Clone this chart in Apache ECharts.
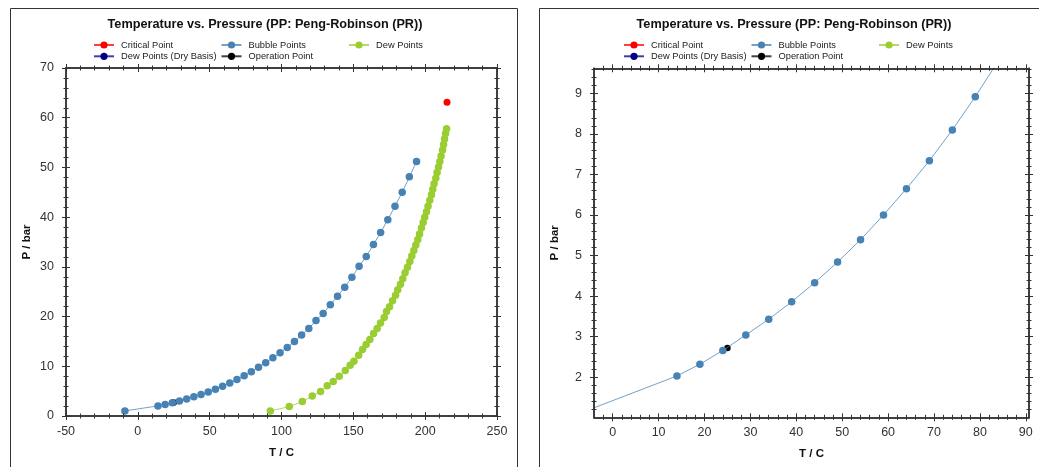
<!DOCTYPE html>
<html>
<head>
<meta charset="utf-8">
<script src="https://cdn.jsdelivr.net/npm/echarts@6/dist/echarts.min.js"></script>
<style>
html,body{margin:0;padding:0;background:#fff;}
#c{width:1039px;height:467px;}
</style>
</head>
<body>
<div id="c"></div>
<script>
// ---- data ----
const bubbleT = [-9, 14, 19, 24, 29, 34, 39, 44, 49, 54, 59, 64, 69, 74, 79, 84, 89, 94, 99, 104, 109, 114, 119, 124, 129, 134, 139, 144, 149, 154, 159, 164, 169, 174, 179, 184, 189, 194];
const bubbleP = [1.03, 2.03, 2.32, 2.66, 3.04, 3.43, 3.86, 4.33, 4.84, 5.39, 6.00, 6.65, 7.34, 8.10, 8.92, 9.8, 10.7, 11.7, 12.7, 13.8, 15.0, 16.3, 17.6, 19.2, 20.6, 22.4, 24.1, 25.9, 27.9, 30.1, 32.1, 34.5, 36.9, 39.5, 42.2, 45.0, 48.1, 51.2];
const dewT = [92.2, 105.4, 114.5, 121.4, 127.2, 131.8, 136.0, 140.2, 144.4, 147.8, 150.4, 153.7, 156.4, 158.9, 161.5, 164.1, 166.6, 168.9, 171.5, 173.1, 175.2, 177.3, 179.4, 180.9, 182.8, 184.4, 186.0, 187.7, 189.3, 190.7, 192.1, 193.5, 194.9, 196.1, 197.4, 198.6, 199.7, 200.9, 202.0, 203.2, 204.4, 205.3, 206.2, 207.4, 208.3, 209.3, 210.2, 211.1, 212.1, 212.8, 213.5, 214.2, 214.9];
const dewP = [1.0, 1.9, 2.9, 4.0, 4.95, 6.1, 6.95, 8.0, 9.15, 10.2, 11.0, 12.2, 13.4, 14.4, 15.4, 16.6, 17.6, 18.7, 19.8, 21.0, 22.0, 23.2, 24.3, 25.4, 26.5, 27.6, 28.8, 29.9, 31.1, 32.2, 33.3, 34.4, 35.5, 36.6, 37.8, 38.9, 40.0, 41.1, 42.2, 43.4, 44.5, 45.6, 46.7, 47.8, 49.0, 50.1, 51.2, 52.3, 53.5, 54.6, 55.7, 56.8, 57.8];
const dewDryT = [];
const dewDryP = [];
const criticalT = [215.2];
const criticalP = [63.1];
const operationT = [25];
const operationP = [2.72];

const seriesNames = ['Critical Point', 'Bubble Points', 'Dew Points', 'Dew Points (Dry Basis)', 'Operation Point'];
const titleText = 'Temperature vs. Pressure (PP: Peng-Robinson (PR))';
const xName = 'T / C';
const yName = 'P / bar';

// tick values
const leftX = {min: -50, max: 250, interval: 50};
const leftY = {min: 0, max: 70, interval: 10};
const rightXMajor = [0, 10, 20, 30, 40, 50, 60, 70, 80, 90];
const rightYMajor = [2, 3, 4, 5, 6, 7, 8, 9];

// ---- build ----
const FONT = '"Liberation Sans", Arial, sans-serif';
const AX = '#333';
function pairs(xs, ys) { return xs.map((x, i) => [x, ys[i]]); }
function range(a, b, step) { const r = []; for (let v = a; v <= b + 1e-9; v += step) r.push(+v.toFixed(4)); return r; }

const xAxes = [], yAxes = [];
function addAxes(list, gi, isX, spec) {
  const pos = isX ? ['bottom', 'top', 'bottom', 'top'] : ['left', 'right', 'left', 'right'];
  const inside = [false, false, true, true];
  const first = list.length;
  const mk = (i, minor) => {
    const a = {
      type: 'value', gridIndex: gi, position: pos[i], min: spec.min, max: spec.max,
      axisLine: {show: !minor, onZero: false, lineStyle: {color: AX, width: 1.5}},
      splitLine: {show: false},
      axisTick: {show: true, inside: inside[i], length: minor ? 2.5 : 4, lineStyle: {color: AX, width: 1}},
      axisLabel: {show: false},
      z: 5
    };
    if (i === 0 && !minor) {
      a.axisLabel = {show: true, color: '#333', fontFamily: FONT, fontSize: 12.5, margin: isX ? 9 : 12};
      a.name = isX ? xName : yName;
      a.nameLocation = 'middle';
      a.nameGap = isX ? 31 : 33;
      a.nameTextStyle = {fontFamily: FONT, fontSize: 11.5, fontWeight: 'bold', color: '#111'};
    }
    if (spec.interval) {
      a.interval = spec.interval;
      if (!minor) a.minorTick = {show: true, splitNumber: 5, length: 2.5, lineStyle: {color: AX, width: 1}};
    } else {
      const vals = minor ? spec.minorVals : spec.major;
      a.axisTick.customValues = vals;
      a.axisLabel.customValues = spec.major;
    }
    return a;
  };
  for (let i = 0; i < 4; i++) list.push(mk(i, false));
  if (!spec.interval) for (let i = 0; i < 4; i++) list.push(mk(i, true));
  return first;
}

const grids = [
  {left: 66, top: 68, width: 431, height: 348, outerBoundsMode: 'none'},
  {left: 594, top: 68.3, width: 435, height: 349, outerBoundsMode: 'none'}
];

const lx = addAxes(xAxes, 0, true, leftX);
const ly = addAxes(yAxes, 0, false, leftY);
const rx = addAxes(xAxes, 1, true, {min: -4.07, max: 90.7, major: rightXMajor, minorVals: range(-2, 90, 2)});
const ry = addAxes(yAxes, 1, false, {min: 1.01, max: 9.62, major: rightYMajor, minorVals: range(1.2, 9.6, 0.2)});

const colors = ['#FF0000', '#4682B4', '#9ACD32', '#000080', '#000000'];
const dataSets = [pairs(criticalT, criticalP), pairs(bubbleT, bubbleP), pairs(dewT, dewP), pairs(dewDryT, dewDryP), pairs(operationT, operationP)];
const sizes = [7, 7.5, 7.5, 7, 6.5];
const zs = [2, 2, 2, 2, 1];

const series = [];
[[lx, ly], [rx, ry]].forEach(([xi, yi]) => {
  seriesNames.forEach((n, k) => {
    series.push({
      name: n, type: 'line', xAxisIndex: xi, yAxisIndex: yi,
      data: dataSets[k], symbol: 'circle', symbolSize: sizes[k], showSymbol: true,
      itemStyle: {color: colors[k]},
      lineStyle: {color: colors[k], width: 1, opacity: 0.75},
      clip: true, animation: false, z: zs[k],
      emphasis: {disabled: true}
    });
  });
});

const legendCols = [93, 220.5, 348];
const legendRows = [40.5, 51.8];
const legendPos = [[0, 0], [1, 0], [2, 0], [0, 1], [1, 1]];
const legends = [];
[0, 530].forEach(dx => {
  seriesNames.forEach((n, k) => {
    legends.push({
      data: [n], left: legendCols[legendPos[k][0]] + dx, top: legendRows[legendPos[k][1]],
      padding: 0, itemWidth: 20, itemHeight: 9, selectedMode: false,
      textStyle: {fontFamily: FONT, fontSize: 9.3, color: '#222', padding: [0, 0, 0, 2]}
    });
  });
});

const graphics = [
  {type: 'rect', shape: {x: 10.5, y: 8.5, width: 507, height: 480}, style: {fill: null, stroke: '#333', lineWidth: 1}, silent: true},
  {type: 'rect', shape: {x: 539.5, y: 8.5, width: 520, height: 480}, style: {fill: null, stroke: '#333', lineWidth: 1}, silent: true},
  {type: 'text', x: 265, y: 24.5, style: {text: titleText, font: 'bold 12.7px ' + FONT, fill: '#111', textAlign: 'center', textVerticalAlign: 'middle'}, silent: true},
  {type: 'text', x: 794, y: 24.5, style: {text: titleText, font: 'bold 12.7px ' + FONT, fill: '#111', textAlign: 'center', textVerticalAlign: 'middle'}, silent: true}
];

const chart = echarts.init(document.getElementById('c'), null, {renderer: 'canvas'});
chart.setOption({
  backgroundColor: '#fff',
  animation: false,
  grid: grids,
  xAxis: xAxes,
  yAxis: yAxes,
  legend: legends,
  series: series,
  graphic: graphics
});
</script>
</body>
</html>
